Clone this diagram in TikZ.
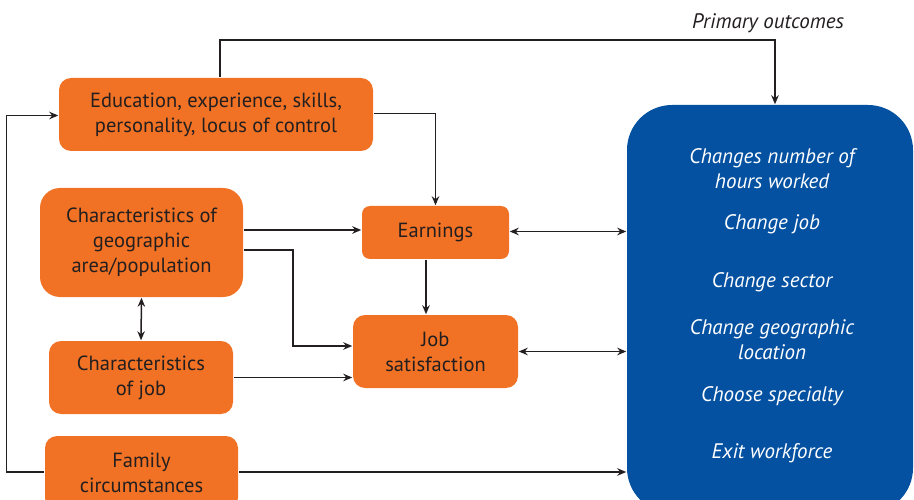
\documentclass[tikz,border=0pt]{standalone}
\usepackage{fontspec}
\setmainfont{PT Sans}
\usepackage[usenames, svgnames, dvipsnames]{xcolor}
\usetikzlibrary{arrows.meta}

\definecolor{boxorange}{RGB}{241,114,36}
\definecolor{outblue}{RGB}{4,81,161}
\definecolor{linegray}{RGB}{35,31,32}

\begin{document}
\begin{tikzpicture}[->,>={Stealth[length=9pt,width=7.5pt]},line width=1.5pt,
				x=1pt,y=-1pt,color=linegray,
				factor/.style={fill=boxorange,draw=none,text=linegray,align=center,
					font=\fontsize{20.5}{25}\selectfont},
				outcome/.style={text=white,align=center,
					font=\fontsize{21}{25}\selectfont\itshape}]
			\useasboundingbox (0,0) rectangle (914,500);
			%\tikzstyle{factor}=[fill=orange]
			\node[factor,minimum width=314pt,minimum height=73pt,rounded corners=12pt] (edu) at (216,114.5)
				{Education, experience, skills,\\personality, locus of control};
			\node[factor,minimum width=203pt,minimum height=109pt,rounded corners=20pt] (geo) at (141.5,242.5)
				{Characteristics of\\geographic\\area/population};
			\node[factor,minimum width=184pt,minimum height=73pt,rounded corners=12pt] (jobc) at (141,377.5)
				{Characteristics\\of job};
			\node[factor,minimum width=193pt,minimum height=74pt,rounded corners=12pt] (fam) at (141.5,473)
				{Family\\circumstances};
			\node[factor,minimum width=147pt,minimum height=53pt,rounded corners=8pt] (earn) at (435.5,232.5)
				{Earnings};
			\node[factor,minimum width=165pt,minimum height=73pt,rounded corners=12pt] (js) at (435.5,351.5)
				{Job\\satisfaction};
			\node[fill=outblue,minimum width=286pt,minimum height=408pt,rounded corners=45pt] (outcomes) at (770,309) {};
			\node[outcome,text=linegray] (primary) at (768,23) {Primary outcomes};
			\foreach \y/\txt [count=\i] in {169/{Changes number of\\hours worked},224/Change job,282/Change sector,
				340/{Change geographic\\location},396/Choose specialty,453/Exit workforce}
				\node[outcome] (out\i) at (772,\y) {\txt};
			% connectors
			\draw ([xshift=4pt]edu.north) -- ++(0,-37) -| ([xshift=5pt]outcomes.north);
			\draw ([yshift=1pt]edu.east) -| (earn.north);
			\draw ([yshift=12.5pt]geo.east) -- ([yshift=12.5pt]geo.east -| earn.west);
			\draw ([yshift=-7.5pt]geo.east) -- ++(49,0) |- ([yshift=5.5pt]js.west);
			\draw[<->] (geo.south) -- (jobc.north);
			\draw (jobc.east) -- (jobc.east -| js.west);
			\draw ([xshift=-9.5pt]earn.south) -- ([xshift=-9.5pt]earn.south |- js.north);
			\draw[<->] ([yshift=1pt]earn.east) -- ([yshift=1pt]earn.east -| outcomes.west);
			\draw[<->] (js.east) -- (js.east -| outcomes.west);
			\draw ([yshift=1pt]fam.east) -- ([yshift=1pt]fam.east -| outcomes.west);
			\draw ([yshift=1pt]fam.west) -- ++(-38,0) |- ([yshift=-1pt]edu.west);
		\end{tikzpicture}
\end{document}
